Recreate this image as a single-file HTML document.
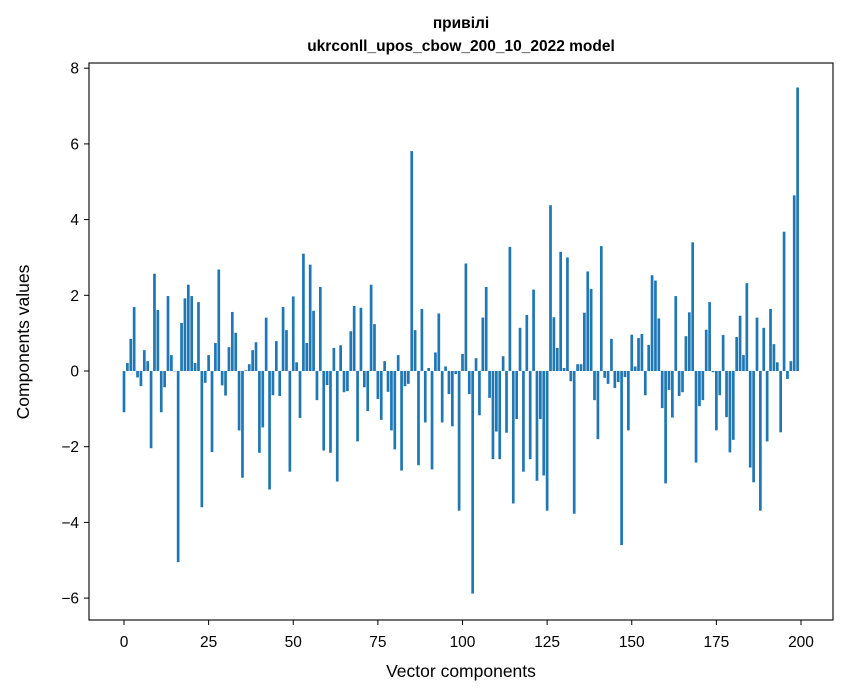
<!DOCTYPE html>
<html><head><meta charset="utf-8"><style>
body{margin:0;background:#fff;}
svg{display:block;font-family:"Liberation Sans","DejaVu Sans",sans-serif;}
</style></head><body>
<svg id="chart" width="847" height="696" xmlns="http://www.w3.org/2000/svg">
<rect width="847" height="696" fill="#fff"/>
<text x="461" y="28" text-anchor="middle" font-size="15.5" font-weight="bold">привілі</text>
<text x="461" y="51" text-anchor="middle" font-size="15.5" font-weight="bold">ukrconll_upos_cbow_200_10_2022 model</text>
<g id="bars"></g>
<g id="xticks"></g>
<g id="yticks"></g>
<rect x="89" y="63" width="744" height="557" fill="none" stroke="#000" stroke-width="1.1"/>
<text x="461" y="677" text-anchor="middle" font-size="17.5">Vector components</text>
<text x="0" y="0" transform="translate(29,342) rotate(-90)" text-anchor="middle" font-size="17.5">Components values</text>
</svg>
<script>
const values = [
-1.09,0.21,0.85,1.69,-0.17,-0.4,0.55,0.26,-2.04,2.57,1.61,-1.09,-0.43,1.98,0.42,0.0,-5.05,1.27,1.92,2.28,1.98,0.21,1.82,-3.6,-0.31,
0.42,-2.14,0.74,2.68,-0.38,-0.65,0.63,1.56,1.01,-1.57,-2.82,0.02,0.18,0.55,0.76,-2.16,-1.49,1.41,-3.13,-0.64,0.79,-0.66,1.69,1.08,-2.66,
1.97,0.23,-1.24,3.1,0.74,2.81,1.59,-0.77,2.22,-2.1,-0.37,-2.16,0.61,-2.92,0.68,-0.56,-0.53,1.05,1.72,-1.86,1.67,-0.43,-1.06,2.28,1.24,
-0.74,-1.29,0.26,-0.55,-1.57,-2.07,0.42,-2.63,-0.4,-0.34,5.81,1.08,-2.49,1.64,-1.36,0.08,-2.6,0.49,1.52,-1.36,0.12,-0.61,-1.46,-0.08,-3.69,
0.45,2.84,-0.61,-5.88,0.34,-1.17,1.41,2.22,-0.71,-2.33,-1.6,-2.33,0.39,-1.63,3.28,-3.5,-1.27,1.14,-2.66,1.48,-2.33,2.15,-2.9,-1.27,-2.76,
-3.69,4.38,1.42,0.61,3.15,0.08,3.0,-0.27,-3.77,0.18,0.18,1.54,2.63,2.17,-0.77,-1.8,3.3,-0.18,-0.34,0.85,-0.45,-0.29,-4.6,-0.16,-1.57,
0.96,0.12,0.87,0.98,-0.64,0.69,2.53,2.39,1.39,-0.98,-2.97,-0.5,-1.23,1.98,-0.66,-0.56,0.92,1.55,3.4,-2.42,-0.93,-0.77,1.09,1.82,-0.03,
-1.57,-0.64,0.95,-1.22,-2.15,-1.82,0.9,1.46,0.42,2.32,-2.55,-2.94,1.41,-3.69,1.14,-1.86,1.64,0.71,0.23,-1.62,3.68,-0.21,0.26,4.64,7.49
];
const xTickLabels = [0,25,50,75,100,125,150,175,200];
const yTickLabels = [-6,-4,-2,0,2,4,6,8];
const NS = "http://www.w3.org/2000/svg";
function xs(v){return 124 + (v/200)*677;}
function ys(v){return 371 - v*37.85;}
const barsG = document.getElementById('bars');
values.forEach(function(v,i){
  const r = document.createElementNS(NS,'rect');
  const y0 = ys(0), y1 = ys(v);
  r.setAttribute('x', xs(i)-1.35);
  r.setAttribute('width', 2.7);
  r.setAttribute('y', Math.min(y0,y1));
  r.setAttribute('height', Math.max(Math.abs(y1-y0),0.3));
  r.setAttribute('fill', '#1f77b4');
  
  
  barsG.appendChild(r);
});
const xg = document.getElementById('xticks');
xTickLabels.forEach(function(t){
  const l = document.createElementNS(NS,'line');
  l.setAttribute('x1', xs(t)); l.setAttribute('x2', xs(t));
  l.setAttribute('y1', 620); l.setAttribute('y2', 625);
  l.setAttribute('stroke', '#000');
  
  
  xg.appendChild(l);
  const tx = document.createElementNS(NS,'text');
  tx.setAttribute('x', xs(t)); tx.setAttribute('y', 647);
  tx.setAttribute('text-anchor', 'middle'); tx.setAttribute('font-size', '15.5');
  tx.textContent = t;
  
  
  xg.appendChild(tx);
});
const yg = document.getElementById('yticks');
yTickLabels.forEach(function(t){
  const l = document.createElementNS(NS,'line');
  l.setAttribute('x1', 84); l.setAttribute('x2', 89);
  l.setAttribute('y1', ys(t)); l.setAttribute('y2', ys(t));
  l.setAttribute('stroke', '#000');
  
  
  yg.appendChild(l);
  const tx = document.createElementNS(NS,'text');
  tx.setAttribute('x', 79); tx.setAttribute('y', ys(t)+5.5);
  tx.setAttribute('text-anchor', 'end'); tx.setAttribute('font-size', '15.5');
  tx.textContent = t < 0 ? '\u2212' + Math.abs(t) : String(t);
  
  
  yg.appendChild(tx);
});
</script>
</body></html>
